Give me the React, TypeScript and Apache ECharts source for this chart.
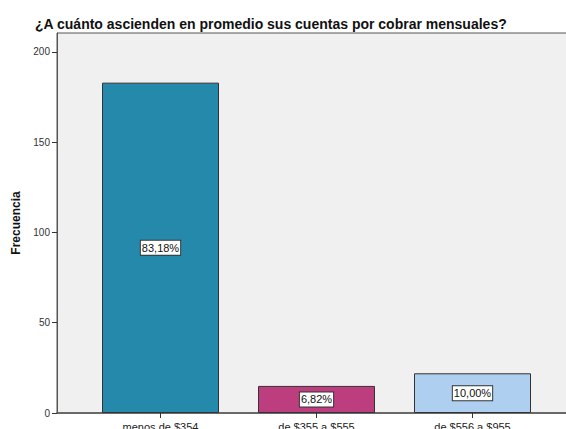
import React, { useEffect, useRef } from "react";
import * as echarts from "echarts";

const categories = ["menos de $354", "de $355 a $555", "de $556 a $955"];
const frequencies = [183, 15, 22];
const percentLabels = ["83,18%", "6,82%", "10,00%"];
const barColors = ["#2589ab", "#bd3e7e", "#aecff0"];
const yTicks = [0, 50, 100, 150, 200];
const titleText = "¿A cuánto ascienden en promedio sus cuentas por cobrar mensuales?";
const yName = "Frecuencia";

export default function App() {
  const ref = useRef<HTMLDivElement>(null);
  useEffect(() => {
    if (!ref.current) return;
    const chart = echarts.init(ref.current, null, { renderer: "svg" });
    const font = "'Liberation Sans', Arial, sans-serif";
    const yMax = 210.5;
    chart.setOption({
      animation: false,
      textStyle: { fontFamily: font },
      title: {
        text: titleText,
        left: 35,
        top: 17,
        padding: 0,
        textStyle: { fontSize: 14, fontWeight: "bold", color: "#111", fontFamily: font },
      },
      grid: [
        {
          left: 57, right: -3, top: 33, bottom: 16, outerBoundsMode: "none", containLabel: false,
          show: true, backgroundColor: "#f0f0f0", borderColor: "#555", borderWidth: 1,
        },
        { left: 82.5, width: 468, top: 33, bottom: 16, outerBoundsMode: "none", containLabel: false },
      ],
      xAxis: [
        {
          gridIndex: 0, type: "value", min: 0, max: 1,
          axisLine: { show: true, onZero: false, lineStyle: { color: "#555", width: 1.5 } },
          axisTick: { show: false }, axisLabel: { show: false }, splitLine: { show: false },
        },
        {
          gridIndex: 1, type: "category", data: categories,
          axisLine: { show: false },
          axisTick: { show: true, alignWithLabel: true, length: 5, lineStyle: { color: "#333" } },
          axisLabel: { fontSize: 11, color: "#222", margin: 8, fontFamily: font },
        },
      ],
      yAxis: [
        {
          gridIndex: 0, type: "value", min: 0, max: yMax, interval: 50,
          name: yName, nameLocation: "middle", nameGap: 34,
          nameTextStyle: { fontSize: 12, fontWeight: "bold", color: "#111", fontFamily: font },
          axisLine: { show: true, lineStyle: { color: "#555" } },
          axisTick: { show: true, length: 5, customValues: yTicks, lineStyle: { color: "#333" } },
          axisLabel: { fontSize: 10, color: "#333", margin: 7, customValues: yTicks, fontFamily: font },
          splitLine: { show: false },
        },
        { gridIndex: 1, type: "value", min: 0, max: yMax, show: false },
      ],
      series: [
        {
          type: "bar",
          xAxisIndex: 1,
          yAxisIndex: 1,
          barWidth: 117,
          data: frequencies.map((v, i) => ({
            value: v,
            itemStyle: { color: barColors[i], borderColor: "#333", borderWidth: 1 },
          })),
          label: {
            show: true,
            position: "inside",
            formatter: (p: any) => percentLabels[p.dataIndex],
            backgroundColor: "#fff",
            borderColor: "#333",
            borderWidth: 1,
            padding: [2, 1, 1, 1],
            fontSize: 11,
            color: "#111",
            fontFamily: font,
          },
        },
      ],
    });
    return () => chart.dispose();
  }, []);
  return <div ref={ref} style={{ width: 566, height: 429, position: "absolute", left: 0, top: 0 }} />;
}
